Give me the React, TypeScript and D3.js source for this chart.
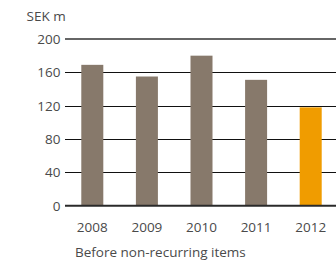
import React from "react";
import * as d3 from "d3";

const years = ["2008", "2009", "2010", "2011", "2012"];
const values = [169, 155, 180, 151, 118];
const highlight = ["2012"];
const yTicks = [0, 40, 80, 120, 160, 200];
const unitLabel = "SEK m";
const footnote = "Before non-recurring items";

export default function App() {
  const W = 336, H = 261;
  const left = 65, right = 338;
  const y = d3.scaleLinear().domain([0, 200]).range([205.7, 39]);
  const x = d3.scaleBand().domain(years).range([left, right]).paddingInner(0.597).paddingOuter(0.2985);
  const font = "'Open Sans', 'DejaVu Sans', sans-serif";
  const fs = 13.5;
  const tc = "#4a4a4a";
  return (
    <svg width={W} height={H} style={{ position: "absolute", left: 0, top: 0, display: "block" }} fontFamily={font}>
      <text x={26.5} y={21} fontSize={fs} fill={tc}>{unitLabel}</text>
      {yTicks.map((t) => (
        <g key={t}>
          {t > 0 && t < 200 && (
            <line x1={left} x2={W} y1={Math.round(y(t)) + 0.5} y2={Math.round(y(t)) + 0.5} stroke="#111" strokeWidth={1.2} />
          )}
          <text x={60.5} y={y(t) + 5} fontSize={fs} textAnchor="end" fill={tc}>{t}</text>
        </g>
      ))}
      <line x1={left} x2={W} y1={y(200)} y2={y(200)} stroke="#666" strokeWidth={2} />
      {years.map((yr, i) => (
        <rect key={yr} x={x(yr)} y={y(values[i])} width={x.bandwidth()} height={y(0) - y(values[i])}
          fill={highlight.includes(yr) ? "#f09c00" : "#87796b"} />
      ))}
      <line x1={left} x2={W} y1={y(0)} y2={y(0)} stroke="#2a2a2a" strokeWidth={2} />
      {years.map((yr) => (
        <text key={yr} x={(x(yr) as number) + x.bandwidth() / 2} y={232} fontSize={fs} textAnchor="middle" fill={tc}>{yr}</text>
      ))}
      <text x={75} y={257} fontSize={fs} fill={tc}>{footnote}</text>
    </svg>
  );
}
